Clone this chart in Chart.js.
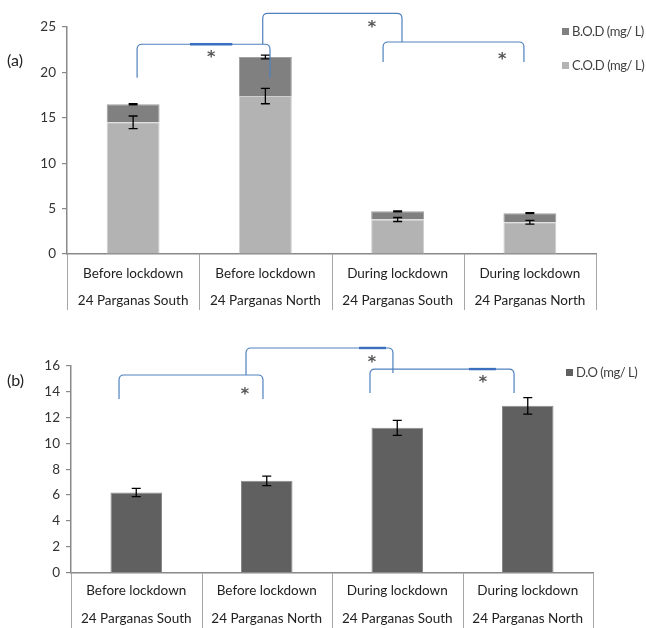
<!DOCTYPE html>
<html><head><meta charset="utf-8">
<script src="https://cdn.jsdelivr.net/npm/chart.js@4.4.1/dist/chart.umd.min.js"></script>
<style>
body{margin:0;background:#fff;}
#wrap{position:relative;width:646px;height:628px;overflow:hidden;font-family:Lato,'Noto Sans',sans-serif;}
canvas{position:absolute;left:0;}
.lbl{position:absolute;font-size:16px;color:#222;line-height:20px;}
.leg{position:absolute;font-size:13px;letter-spacing:-0.45px;color:#404040;white-space:nowrap;line-height:16px;}
.leg .box{display:inline-block;width:7px;height:7px;margin-right:3px;vertical-align:middle;position:relative;top:-1px;}
</style></head><body>
<div id="wrap">
<canvas id="c1" width="646" height="318" style="top:0"></canvas>
<canvas id="c2" width="646" height="310" style="top:318px"></canvas>
<div class="lbl" style="left:7px;top:50px">(a)</div>
<div class="lbl" style="left:7px;top:370px">(b)</div>
</div>
<script>
// ---------- data ----------
const categories = [
  ['Before lockdown', '24 Parganas South'],
  ['Before lockdown', '24 Parganas North'],
  ['During lockdown', '24 Parganas South'],
  ['During lockdown', '24 Parganas North']
];
const codLabel = 'C.O.D (mg/ L)';
const bodLabel = 'B.O.D (mg/ L)';
const doLabel  = 'D.O (mg/ L)';
const codValues = [14.5, 17.4, 3.8, 3.5];
const codErrors = [0.7, 0.85, 0.22, 0.2];
const bodValues = [2.0, 4.3, 0.9, 1.0];
const bodErrors = [0.07, 0.2, 0.05, 0.05];
const doValues  = [6.2, 7.1, 11.2, 12.9];
const doErrors  = [0.32, 0.37, 0.58, 0.64];
const yMaxA = 25, yStepA = 5;
const yMaxB = 16, yStepB = 2;

// significance annotations (category index / value space)
const bracketsA = [
  {x1:0.03, x2:1.035, top:23.1, bot1:19.4, bot2:19.4, thick:[0.43,0.75]},
  {x1:0.98, x2:2.033, top:26.5, bot1:23.1, bot2:23.35},
  {x1:1.89, x2:2.955, top:23.35, bot1:21.15, bot2:21.15}
];
const starsA = [[0.59,21.9],[1.806,25.2],[2.79,21.7]];
const bracketsB = [
  {x1:-0.132, x2:0.971, top:15.28, bot1:13.42, bot2:13.42},
  {x1:0.841, x2:1.967, top:17.37, bot1:15.28, bot2:15.43, thick:[1.707,1.914]},
  {x1:1.791, x2:2.895, top:15.74, bot1:13.89, bot2:13.89, thick:[2.549,2.756]}
];
const starsB = [[0.833,13.97],[1.806,16.44],[2.657,14.89]];

// ---------- plugins ----------
const errorBarPlugin = {
  id: 'errorBars',
  afterDatasetsDraw(chart) {
    const ctx = chart.ctx, y = chart.scales.y;
    chart.data.datasets.forEach((ds, i) => {
      if (!ds.errors) return;
      const meta = chart.getDatasetMeta(i);
      meta.data.forEach((bar, j) => {
        const d = y.getPixelForValue(0) - y.getPixelForValue(ds.errors[j]);
        ctx.save();
        ctx.strokeStyle = '#000'; ctx.lineWidth = 1.3;
        ctx.beginPath();
        ctx.moveTo(bar.x, bar.y - d); ctx.lineTo(bar.x, bar.y + d);
        ctx.moveTo(bar.x - 4.5, bar.y - d); ctx.lineTo(bar.x + 4.5, bar.y - d);
        ctx.moveTo(bar.x - 4.5, bar.y + d); ctx.lineTo(bar.x + 4.5, bar.y + d);
        ctx.stroke();
        ctx.restore();
      });
    });
  }
};

const separatorPlugin = {
  id: 'separators',
  afterDraw(chart, args, opts) {
    const ctx = chart.ctx, x = chart.scales.x, b = chart.chartArea.bottom;
    ctx.save();
    ctx.strokeStyle = '#a6a6a6'; ctx.lineWidth = 1;
    ctx.beginPath();
    for (let i = 0; i <= chart.data.labels.length; i++) {
      const px = Math.round(x.getPixelForValue(i - 0.5)) + 0.5;
      ctx.moveTo(px, b); ctx.lineTo(px, b + opts.length);
    }
    ctx.stroke();
    ctx.restore();
  }
};

const bracketPlugin = {
  id: 'brackets',
  afterDraw(chart, args, opts) {
    const ctx = chart.ctx, xs = chart.scales.x, ys = chart.scales.y;
    const X = v => xs.getPixelForValue(v), Y = v => ys.getPixelForValue(v);
    const r = 5;
    ctx.save();
    (opts.items || []).forEach(it => {
      const x1 = X(it.x1), x2 = X(it.x2), t = Y(it.top), b1 = Y(it.bot1), b2 = Y(it.bot2);
      ctx.strokeStyle = '#4f81bd'; ctx.lineWidth = 1.2;
      ctx.beginPath();
      ctx.moveTo(x1, b1);
      ctx.lineTo(x1, t + r);
      ctx.quadraticCurveTo(x1, t, x1 + r, t);
      ctx.lineTo(x2 - r, t);
      ctx.quadraticCurveTo(x2, t, x2, t + r);
      ctx.lineTo(x2, b2);
      ctx.stroke();
      if (it.thick) {
        ctx.strokeStyle = '#3a6fbf'; ctx.lineWidth = 2.4;
        ctx.beginPath();
        ctx.moveTo(X(it.thick[0]), t); ctx.lineTo(X(it.thick[1]), t);
        ctx.stroke();
      }
    });
    ctx.fillStyle = '#555';
    ctx.font = 'bold 16px "DejaVu Sans", sans-serif';
    ctx.textAlign = 'center'; ctx.textBaseline = 'middle';
    (opts.stars || []).forEach(s => ctx.fillText('*', X(s[0]), Y(s[1]) + 3));
    ctx.restore();
  }
};

Chart.defaults.font.family = 'Lato, "Noto Sans", sans-serif';
Chart.defaults.color = '#333';

function makeOptions(cfg) {
  return {
    responsive: false,
    animation: false,
    devicePixelRatio: 1,
    layout: {padding: {top: cfg.padTop, right: cfg.padRight, left: 0, bottom: 0}},
    plugins: {
      legend: {display: false},
      tooltip: {enabled: false},
      separators: {length: cfg.sepLen},
      brackets: {items: cfg.brackets, stars: cfg.stars}
    },
    scales: {
      x: {
        stacked: cfg.stacked,
        grid: {display: false, drawTicks: false},
        border: {display: true, color: '#898989', width: 1.5},
        ticks: {font: {size: 13.5, lineHeight: cfg.lineH}, padding: cfg.tickPad, color: '#222', maxRotation: 0, autoSkip: false},
        afterFit(s) { s.height = cfg.xHeight; }
      },
      y: {
        stacked: cfg.stacked,
        min: 0, max: cfg.max,
        ticks: {stepSize: cfg.step, font: {size: 13.5}, padding: 6, color: '#333'},
        grid: {drawOnChartArea: false, tickLength: 5, color: '#898989', lineWidth: 1.2},
        border: {display: true, color: '#898989', width: 1.5},
        afterFit(s) { s.width = cfg.yWidth; }
      }
    }
  };
}

const chartA = new Chart(document.getElementById('c1'), {
  type: 'bar',
  data: {
    labels: categories,
    datasets: [
      {label: codLabel, data: codValues, errors: codErrors, backgroundColor: '#b3b3b3', borderColor: '#cfcfcf', borderWidth: 1,
       barPercentage: 0.4, categoryPercentage: 1},
      {label: bodLabel, data: bodValues, errors: bodErrors, backgroundColor: '#808080', borderColor: '#a0a0a0', borderWidth: 1,
       barPercentage: 0.4, categoryPercentage: 1}
    ]
  },
  options: makeOptions({padTop: 27, padRight: 50, sepLen: 56, brackets: bracketsA, stars: starsA,
    stacked: true, lineH: 1.97, tickPad: 6.3, xHeight: 64, max: yMaxA, step: yStepA, yWidth: 67}),
  plugins: [errorBarPlugin, separatorPlugin, bracketPlugin]
});

const chartB = new Chart(document.getElementById('c2'), {
  type: 'bar',
  data: {
    labels: categories,
    datasets: [
      {label: doLabel, data: doValues, errors: doErrors, backgroundColor: '#606060', borderColor: '#8a8a8a', borderWidth: 1,
       barPercentage: 0.395, categoryPercentage: 1}
    ]
  },
  options: makeOptions({padTop: 47.7, padRight: 53, sepLen: 56, brackets: bracketsB, stars: starsB,
    stacked: false, lineH: 2.07, tickPad: 4, xHeight: 55.3, max: yMaxB, step: yStepB, yWidth: 71}),
  plugins: [errorBarPlugin, separatorPlugin, bracketPlugin]
});

// ---------- HTML legends ----------
function htmlLegend(chart, items, left, tops) {
  const wrap = document.getElementById('wrap');
  items.forEach((idx, k) => {
    const ds = chart.data.datasets[idx];
    const d = document.createElement('div');
    d.className = 'leg';
    d.style.left = left + 'px';
    d.style.top = (tops[k] - 8) + 'px';
    const box = document.createElement('span');
    box.className = 'box';
    box.style.background = ds.backgroundColor;
    d.appendChild(box);
    d.appendChild(document.createTextNode(ds.label));
    wrap.appendChild(d);
  });
}
htmlLegend(chartA, [1, 0], 562, [31, 65]);
htmlLegend(chartB, [0], 566, [371.5]);
</script>
</body></html>
